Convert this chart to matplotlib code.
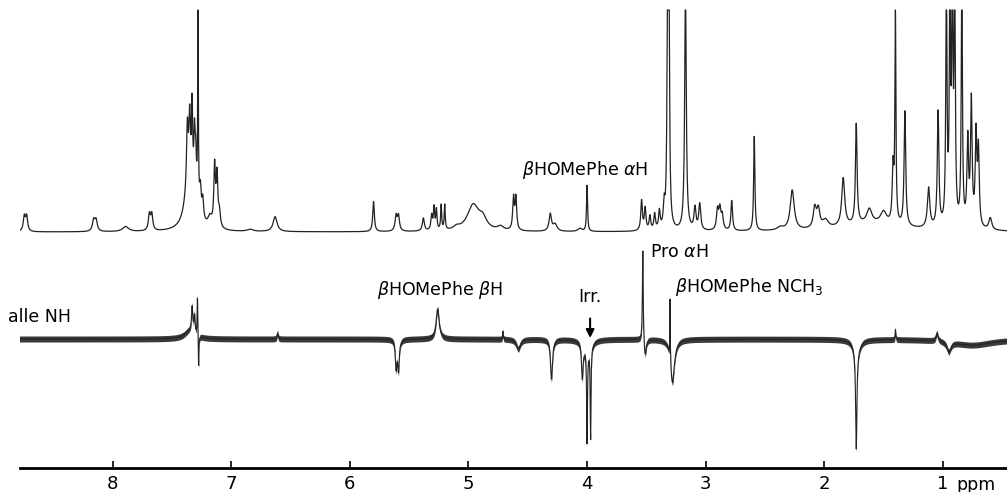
import numpy as np
import matplotlib
matplotlib.use("Agg")
import matplotlib.pyplot as plt

# upper trace: 1H spectrum, peaks as (ppm, height, half-width)
top_ppm = [8.745, 8.725, 8.16, 8.14, 7.89, 7.69, 7.67,
           7.36, 7.30, 7.37, 7.35, 7.33, 7.31, 7.30, 7.28, 7.26, 7.24,
           7.18, 7.14, 7.12, 7.10, 6.84, 6.63,
           5.80, 5.61, 5.59, 5.38, 5.31, 5.29, 5.27, 5.23, 5.20, 5.10,
           4.96, 4.88, 4.73, 4.62, 4.60, 4.31, 4.27, 4.06, 4.00,
           3.54, 3.51, 3.47, 3.43, 3.39, 3.35, 3.32, 3.31, 3.17,
           3.09, 3.05, 2.90, 2.88, 2.86, 2.78, 2.59, 2.37, 2.27,
           2.08, 2.05, 1.99, 1.84, 1.73, 1.62, 1.50, 1.42, 1.40, 1.32,
           1.12, 1.04, 0.97, 0.94, 0.92, 0.90, 0.84,
           0.79, 0.76, 0.72, 0.70, 0.60, 1.6]
top_h = [15, 15, 11, 11, 5, 16, 16,
         40, 30, 60, 65, 80, 50, 30, 190, 25, 20,
         10, 60, 50, 15, 2, 15,
         30, 15, 15, 13, 15, 22, 20, 25, 25, 3,
         26, 10, 4, 32, 32, 17, 7, 3, 46,
         30, 22, 14, 16, 18, 22, 240, 240, 240,
         22, 26, 20, 20, 14, 30, 95, 3, 40,
         20, 18, 8, 48, 100, 14, 12, 55, 210, 115,
         40, 115, 240, 240, 240, 240, 240,
         85, 125, 90, 75, 12, 8]
top_w = [0.01, 0.01, 0.012, 0.012, 0.03, 0.01, 0.01,
         0.04, 0.03, 0.008, 0.008, 0.006, 0.006, 0.006, 0.003, 0.008, 0.008,
         0.02, 0.008, 0.008, 0.01, 0.03, 0.02,
         0.008, 0.01, 0.01, 0.01, 0.008, 0.006, 0.006, 0.005, 0.005, 0.03,
         0.06, 0.04, 0.03, 0.008, 0.008, 0.012, 0.02, 0.02, 0.005,
         0.008, 0.008, 0.008, 0.008, 0.008, 0.008, 0.006, 0.006, 0.008,
         0.01, 0.01, 0.01, 0.01, 0.01, 0.008, 0.006, 0.03, 0.02,
         0.015, 0.015, 0.03, 0.015, 0.008, 0.025, 0.03, 0.008, 0.005, 0.008,
         0.012, 0.008, 0.006, 0.006, 0.006, 0.006, 0.006,
         0.008, 0.008, 0.008, 0.008, 0.015, 0.3]

# lower trace: NOE difference spectrum
diff_ppm = [7.35, 7.33, 7.31, 7.285, 7.275, 6.61, 5.61, 5.59, 5.26,
            4.71, 4.58, 4.30, 4.04, 4.00, 3.97, 4.0,
            3.53, 3.51, 3.30, 3.28, 1.73, 1.73, 1.40, 1.05, 0.95, 0.75]
diff_h = [8, 25, 18, 40, -33, 6, -28, -30, 30,
          8, -10, -40, -34, -92, -92, -10,
          92, -18, 66, -44, -95, -15, 10, 8, -10, -6]
diff_w = [0.05, 0.006, 0.006, 0.003, 0.003, 0.005, 0.008, 0.008, 0.015,
          0.003, 0.02, 0.01, 0.008, 0.004, 0.004, 0.04,
          0.004, 0.01, 0.002, 0.02, 0.006, 0.03, 0.003, 0.01, 0.02, 0.2]

tick_vals = [8, 7, 6, 5, 4, 3, 2, 1]


def spectrum(x, centers, heights, widths):
    y = np.zeros_like(x)
    for c, h, w in zip(centers, heights, widths):
        y += h * w ** 2 / ((x - c) ** 2 + w ** 2)
    return y


x = np.linspace(8.79, 0.45, 8000)
top_base = 235.7
low_base = 128.7
clip_y = 457.7

y_top = np.minimum(top_base + spectrum(x, top_ppm, top_h, top_w), clip_y)
y_low = low_base + spectrum(x, diff_ppm, diff_h, diff_w)

fig = plt.figure(figsize=(10.07, 4.92), dpi=100)
ax = fig.add_axes([20 / 1007, 24.3 / 492, 987 / 1007, 467.7 / 492])

ax.plot(x, y_top, color="#222222", lw=0.9)
# noise band of the difference trace
ax.fill_between(x, y_low - 3, y_low + 3, color="#3a3a3a", lw=0)
ax.plot(x, y_low, color="#222222", lw=0.8)

ax.set_xlim(8.781, 0.459)
ax.set_ylim(0, 467.7)
for s in ["top", "left", "right"]:
    ax.spines[s].set_visible(False)
ax.spines["bottom"].set_linewidth(2)
ax.set_yticks([])
ax.set_xticks(tick_vals)
ax.set_xticklabels([str(t) for t in tick_vals])
ax.tick_params(axis="x", direction="in", length=5, width=1.2, labelsize=13, pad=5)

fs = 12.5
ax.text(4.549, 297.7, r"$\beta$HOMePhe $\alpha$H", fontsize=fs, va="center")
ax.text(5.773, 177.7, r"$\beta$HOMePhe $\beta$H", fontsize=fs, va="center")
ax.text(8.883, 150.7, "alle NH", fontsize=fs, va="center")
ax.text(3.468, 215.7, r"Pro $\alpha$H", fontsize=fs, va="center")
ax.text(3.257, 180.7, r"$\beta$HOMePhe NCH$_3$", fontsize=fs, va="center")
ax.annotate("Irr.", xy=(3.974, 129.7), xytext=(3.974, 170.7), fontsize=fs,
            ha="center", va="center",
            arrowprops=dict(arrowstyle="-|>", color="k", lw=1.5,
                            shrinkA=7, shrinkB=0, mutation_scale=12))
ax.text(0.889, -17.3, "ppm", fontsize=12.5, va="center")

fig.savefig("out.png", dpi=100)
